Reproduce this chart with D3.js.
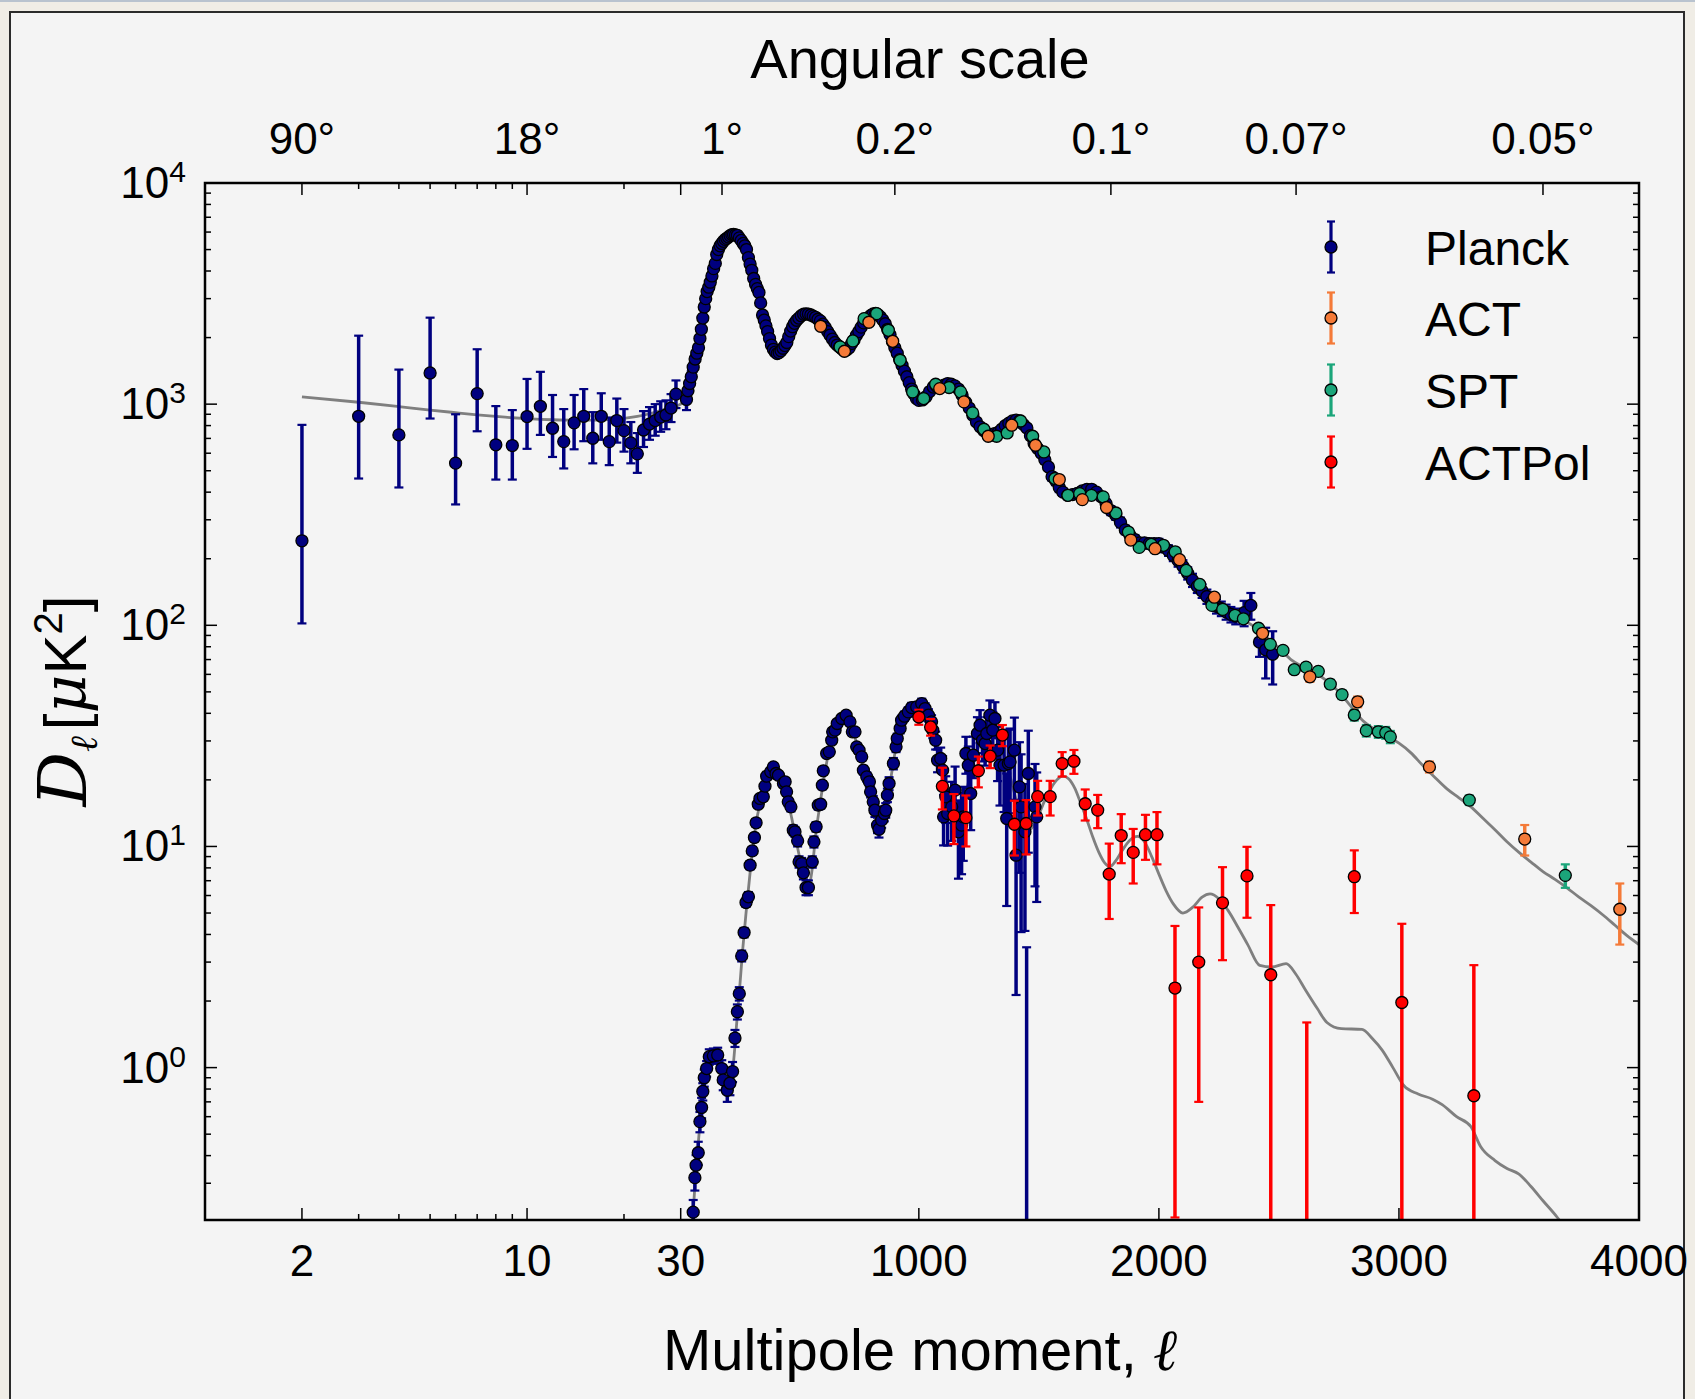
<!DOCTYPE html>
<html>
<head>
<meta charset="utf-8">
<script src="https://cdn.jsdelivr.net/npm/d3@7"></script>
<style>
  html, body { margin: 0; padding: 0; background: #f0ede6; }
  svg { display: block; }
  text { font-family: "Liberation Sans", Arial, sans-serif; fill: #000; }
</style>
</head>
<body>
<svg id="chart" width="1695" height="1399"></svg>
<script>
// ---------- CMB angular power spectra: TT (upper) and EE (lower) ----------

// Planck TT, low multipoles: [ell, D_ell, lower bound, upper bound]  (uK^2)
const planckLowEll = [
  [2,241,102,806],[3,881,461,2040],[4,726,420,1433],[5,1384,861,2461],[6,541,352,900],
  [7,1116,754,1771],[8,655,456,980],[9,650,456,940],[10,879,628,1300],[11,978,726,1400],
  [12,778,577,1100],[13,677,512,950],[14,823,625,1100],[15,881,680,1170],[16,701,540,920],
  [17,881,690,1120],[18,677,530,870],[19,843,670,1060],[20,759,610,950],[21,668,540,830],
  [22,596,489,740],[23,764,640,930],[24,813,690,970],[25,843,720,1000],[26,874,750,1030],
  [27,893,770,1040],[28,960,830,1110],[29,1110,960,1280]
];

// Planck TT, binned high multipoles: [ell, D_ell, error]
const planckTT = [
  [32,1050,110],[38,1150,100],[45,1240,90],[52,1330,80],[60,1470,70],[68,1600,60],[75,1700,55],
  [82,1800,50],[88,1980,50],[94,2180,50],[100,2450,50],[106,2750,50],[112,3000,50],[118,3230,50],
  [125,3380,50],[131,3560,50],[138,3800,50],[145,4100,50],[152,4330,50],[158,4750,50],[165,5000,50],
  [172,5200,50],[179,5330,50],[186,5450,50],[193,5560,50],[200,5620,50],[207,5700,50],[214,5780,50],
  [221,5840,50],[228,5850,50],[236,5820,50],[244,5800,50],[252,5650,50],[260,5500,50],[268,5330,50],
  [275,5200,50],[282,5000,50],[290,4600,50],[297,4300,50],[304,4030,40],[312,3700,40],[320,3480,40],
  [327,3330,40],[334,3200,40],[341,2870,40],[349,2530,40],[356,2400,40],[363,2260,40],[370,2130,40],
  [378,1980,40],[386,1850,40],[394,1770,40],[402,1720,40],[410,1693,40],[418,1710,40],[426,1745,40],
  [434,1790,40],[442,1840,40],[450,1900,40],[458,2020,40],[466,2140,40],[474,2240,40],[482,2320,40],
  [491,2395,40],[500,2450,40],[510,2510,40],[520,2550,40],[530,2560,40],[540,2555,40],[550,2530,40],
  [560,2500,40],[570,2470,40],[580,2420,40],[590,2380,40],[600,2300,40],[610,2220,40],[620,2130,40],
  [630,2050,40],[640,1970,40],[650,1900,40],[660,1850,40],[670,1810,40],[680,1775,40],[690,1745,40],
  [700,1760,40],[710,1800,40],[720,1880,40],[730,1950,40],[740,2050,40],[750,2130,40],[760,2230,40],
  [770,2330,40],[780,2420,40],[790,2460,40],[800,2520,40],[810,2560,40],[820,2570,40],[830,2540,40],
  [840,2480,40],[850,2400,40],[860,2310,40],[870,2180,40],[880,2060,40],[890,1920,40],[900,1800,40],
  [910,1700,30],[920,1590,30],[930,1500,30],[940,1410,30],[950,1330,30],[960,1250,30],[970,1170,30],
  [980,1110,30],[990,1060,30],[1000,1040,30],[1015,1045,30],[1030,1080,30],[1045,1140,30],[1060,1195,30],
  [1075,1200,30],[1090,1200,30],[1105,1220,30],[1120,1239,30],[1135,1230,30],[1150,1210,30],[1165,1170,30],
  [1180,1100,30],[1195,1020,25],[1210,960,25],[1225,890,25],[1240,830,25],[1255,790,25],[1270,760,25],
  [1285,735,25],[1300,723,25],[1315,735,25],[1330,745,25],[1345,770,25],[1360,800,25],[1375,820,25],
  [1390,840,25],[1405,846,25],[1420,840,25],[1435,810,25],[1450,780,25],[1465,720,20],[1480,665,20],
  [1495,630,20],[1510,600,20],[1525,560,20],[1540,520,20],[1555,470,20],[1570,450,20],[1585,420,20],
  [1600,400,15],[1620,387,15],[1640,390,15],[1660,395,15],[1680,405,15],[1700,412,15],[1720,412,15],
  [1740,400,15],[1760,381,15],[1780,355,15],[1800,330,15],[1820,315,15],[1840,292,15],[1860,270,12],
  [1880,255,12],[1900,244,12],[1920,236,12],[1940,236,12],[1960,234,12],[1980,234,12],[2000,234,12],
  [2020,226,12],[2040,218,12],[2060,207,12],[2080,196,12],[2100,185,12],[2120,172,11],[2140,160,11],
  [2160,150,10],[2180,143,10],[2200,135,10],[2220,128,9],[2240,122,9],[2260,119,9],[2280,115,9],
  [2300,112,9],[2320,110,9],[2355,114,15],[2383,123,17],[2419,84,12],[2445,77.5,20],[2474,74,20]
];

// ACT TT: [ell, D_ell, error]
const actTT = [
  [591,2250,60],[690,1735,50],[792,2346,60],[891,1924,50],[1087,1176,30],[1188,1024,25],[1289,716,20],
  [1387,803,20],[1486,652,18],[1585,456,12],[1681,370,10],[1782,341,9],[1883,243,7],[1984,222,6],
  [2086,198,6],[2231,134,5],[2432,92,4],[2629,58.5,3],[2828,45.1,2.5],[3127,22.9,1.3],[3524,10.8,1.7],
  [3920,5.2,1.6]
];

// SPT TT: [ell, D_ell, error]
const sptTT = [
  [672,1815,35],[725,1931,35],[772,2437,40],[824,2567,40],[873,2158,35],[922,1579,30],[974,1136,25],
  [1020,1060,22],[1070,1230,22],[1126,1189,20],[1174,1136,20],[1224,913,16],[1271,770,14],[1324,716,12],
  [1368,741,12],[1424,839,12],[1474,716,11],[1521,608,10],[1567,461,8],[1621,387,7],[1670,394,7],
  [1719,387,7],[1768,381,6],[1821,322,6],[1873,264,5],[1918,225,5],[1968,232,5],[2019,230,5],
  [2068,215,4],[2114,177,4],[2170,153,4],[2221,123,3.5],[2266,118,3.5],[2317,111,3],[2352,107,3],
  [2415,97,3],[2464,82,3],[2517,77,2.5],[2564,63,2.5],[2613,64.7,2.5],[2664,61.9,2.5],[2714,54.2,2.5],
  [2763,48.6,2.2],[2814,39.3,2.2],[2864,33.4,2],[2914,33,2],[2945,32.7,2],[2964,31.3,2],
  [3293,16.2,0.8],[3693,7.4,0.9]
];

// Planck EE: [ell, D_ell, error]
const planckEE = [
  [60,0.222,0.03],[67,0.318,0.04],[72,0.362,0.04],[81,0.412,0.05],[88,0.57,0.06],[95,0.66,0.07],
  [100,0.78,0.07],[106,0.90,0.08],[116,0.99,0.08],[127,1.12,0.09],[144,1.13,0.09],[162,1.14,0.09],
  [179,0.99,0.09],[185,0.88,0.09],[202,0.79,0.09],[213,0.85,0.1],[224,0.96,0.1],[234,1.36,0.12],
  [244,1.79,0.14],[252,2.16,0.15],[262,3.2,0.18],[272,4.08,0.2],[280,5.58,0.25],[290,5.92,0.3],
  [297,8.23,0.35],[306,9.55,0.4],[315,10.98,0.45],[322,12.79,0.5],[331,15.53,0.55],[338,16.48,0.6],
  [352,16.77,0.6],[359,18.74,0.6],[366,20.79,0.7],[383,21.75,0.7],[394,22.91,0.7],[405,21.37,0.7],
  [415,21.0,0.7],[436,19.26,0.7],[443,19.6,0.7],[449,17.66,0.7],[456,15.91,0.7],[467,15.1,0.7],
  [477,11.85,0.6],[484,11.65,0.6],[495,10.6,0.6],[501,8.52,0.5],[512,8.37,0.5],[519,7.6,0.5],
  [530,6.52,0.5],[540,6.52,0.5],[556,8.52,0.5],[563,10.49,0.6],[572,12.27,0.6],[581,15.37,0.7],
  [591,15.53,0.7],[598,18.93,0.8],[602,21.98,0.8],[616,26.32,0.9],[627,26.78,0.9],[637,30.24,1],
  [641,32.98,1],[651,33.56,1],[660,35.97,1],[679,37.89,1.1],[697,39.23,1.1],[713,36.6,1.1],
  [723,32.98,1.1],[734,32.98,1.1],[741,28.21,1],[751,27.25,1],[762,25.42,1],[769,22.13,1],
  [783,20.64,1],[794,19.6,1],[799,17.66,1],[810,15.91,1],[817,14.59,1],[828,12.49,1],[834,11.97,1],
  [845,13.15,1],[856,14.09,1.1],[862,14.59,1.1],[869,17.06,1.2],[876,19.26,1.3],[894,23.71,1.4],
  [905,28.21,1.5],[910,30.77,1.6],[922,34.15,1.7],[928,37.24,1.8],[940,38.82,1.9],[956,40.61,2],
  [970,42.48,2.1],[991,42.77,2.2],[1012,44.28,2.3],[1026,42.04,2.4],[1040,39.23,2.5],[1053,36.6,2.6],
  [1058,33.56,2.7],[1070,30.24,2.8],[1078,24.55,2.9],[1091,24.99,3],[1099,22.13,3.5],[1103,13.61,3.5],
  [1112,16.77,4],[1120,14.09,4],[1137,15.1,4.5],[1151,17.97,5],[1165,11.65,4.5],[1178,12.49,5],
  [1185,13.61,5],[1196,26.32,5],[1206,23.31,5],[1216,17.35,5.5],[1227,25.86,5.5],[1244,32.41,6],
  [1255,35.34,6],[1265,30.24,6],[1276,29.2,6],[1283,32.41,6],[1296,39.23,6.5],[1308,33.56,7],
  [1317,37.89,7],[1328,27.25,7.5],[1338,23.31,8],[1355,23.31,9],[1366,13.38,8],[1373,23.71,10],
  [1380,24.13,10],[1398,27.25,11],[1405,9.13,7],[1419,18.6,11],[1426,15.1,11],[1442,11.65,7.5],
  [1449,-1.0,4.5],[1456,21.37,12],[1484,15.1,8.5],[1491,13.61,8]
];

// ACTPol EE: [ell, D_ell, error]
const actpolEE = [
  [1000,38.5,3],[1049,34.7,3],[1098,18.7,4],[1146,13.75,3.5],[1196,13.5,3.5],[1248,22.0,3.5],
  [1297,25.6,3],[1348,31.9,3.5],[1398,12.6,3.5],[1447,12.7,3.5],[1495,16.8,3],[1547,16.8,3],
  [1597,23.7,3],[1646,24.3,3],[1693,15.6,2.5],[1745,14.6,2.5],[1793,7.5,2.8],[1843,11.2,2.8],
  [1893,9.4,2.6],[1944,11.3,2.6],[1992,11.3,3],[2067,2.29,2.08],[2166,3.0,2.3],[2265,5.56,2.5],
  [2367,7.36,2.6],[2466,2.63,2.8],[2616,-0.5,2.1],[2814,7.3,2.3],[3012,1.97,2.5],[3312,0.746,2.16]
];

// Best-fit model curves: [ell, D_ell]
const ttModel = [
  [2,1078],[3,1020],[4,975],[5,940],[6,915],[7,895],[8,880],[9,868],[10,860],[12,850],[14,846],
  [16,846],[18,852],[20,862],[22,880],[24,905],[26,935],[28,965],[30,1000],[40,1150],[60,1460],
  [80,1790],[100,2400],[120,3250],[140,3900],[160,4700],[180,5330],[200,5620],[220,5830],[240,5810],
  [260,5520],[280,5050],[300,4200],[320,3500],[340,2900],[360,2300],[380,1960],[400,1730],[420,1705],
  [440,1820],[460,2050],[480,2300],[500,2450],[520,2550],[540,2560],[560,2500],[580,2420],[600,2300],
  [620,2130],[640,1970],[660,1850],[680,1775],[700,1760],[720,1880],[740,2050],[760,2230],[780,2420],
  [800,2520],[820,2570],[840,2480],[860,2310],[880,2060],[900,1800],[920,1590],[940,1410],[960,1250],
  [980,1110],[1000,1045],[1020,1050],[1040,1110],[1060,1190],[1080,1210],[1100,1225],[1120,1240],
  [1140,1225],[1160,1185],[1180,1100],[1200,1000],[1220,905],[1240,830],[1260,780],[1280,740],
  [1300,725],[1320,735],[1340,765],[1360,800],[1380,830],[1400,845],[1420,840],[1440,805],[1460,735],
  [1480,665],[1500,610],[1520,565],[1540,520],[1560,465],[1580,425],[1600,400],[1620,388],[1640,390],
  [1660,396],[1680,405],[1700,412],[1720,410],[1740,400],[1760,381],[1780,355],[1800,330],[1820,312],
  [1840,290],[1860,270],[1880,254],[1900,243],[1920,236],[1940,234],[1960,233],[1980,232],[2000,231],
  [2020,226],[2040,218],[2060,207],[2080,196],[2100,184],[2120,172],[2140,160],[2160,150],[2180,142],
  [2200,135],[2250,121],[2300,113],[2350,106],[2400,98],[2450,88],[2500,79],[2550,70],[2600,65],
  [2650,61],[2700,56],[2750,50],[2800,43],[2850,37],[2900,33.8],[2950,31.5],[3000,29.3],[3050,26.5],
  [3100,23.2],[3150,20.5],[3200,18.2],[3250,16.6],[3300,15.1],[3350,13.4],[3400,11.9],[3450,10.5],
  [3500,9.4],[3550,8.5],[3600,7.7],[3650,7.1],[3700,6.5],[3750,5.9],[3800,5.4],[3850,4.9],[3900,4.4],
  [3950,3.95],[4000,3.6]
];
const eeModel = [
  [45,0.12],[55,0.18],[60,0.22],[70,0.33],[80,0.44],[90,0.59],[100,0.76],[110,0.92],[125,1.07],
  [145,1.13],[165,1.1],[180,0.97],[195,0.84],[205,0.8],[215,0.84],[225,0.98],[235,1.3],[245,1.8],
  [255,2.4],[265,3.3],[280,5.0],[300,8.2],[320,12.3],[340,16.0],[360,19.2],[380,21.4],[395,22.1],
  [410,21.5],[430,19.4],[450,16.8],[470,13.5],[490,10.5],[510,8.2],[525,6.9],[540,6.6],[555,7.8],
  [570,11.2],[590,16.0],[610,22.0],[630,28.5],[650,33.5],[670,37.0],[690,38.9],[705,38.3],[720,35.0],
  [740,29.5],[760,24.5],[780,20.3],[800,17.0],[820,13.8],[835,12.3],[850,12.9],[865,15.0],[880,19.2],
  [900,26.3],[920,33.2],[940,38.2],[960,41.3],[980,42.6],[1000,42.5],[1020,40.8],[1040,37.6],
  [1060,33.2],[1080,27.8],[1100,22.6],[1120,18.4],[1140,15.6],[1160,14.6],[1180,15.5],[1200,18.3],
  [1220,22.2],[1240,26.5],[1260,30.0],[1280,32.0],[1300,32.4],[1320,31.2],[1340,28.5],[1360,24.8],
  [1380,20.8],[1400,17.1],[1420,14.2],[1440,12.4],[1460,11.9],[1480,12.5],[1500,13.9],[1525,16.2],
  [1550,18.3],[1575,20.0],[1600,20.8],[1625,20.2],[1650,18.3],[1675,15.6],[1700,13.2],[1725,11.0],
  [1750,9.4],[1775,8.4],[1795,8.1],[1820,8.6],[1850,9.7],[1880,10.7],[1910,11.1],[1940,10.5],
  [1970,9.0],[2000,7.5],[2030,6.3],[2060,5.5],[2100,5.0],[2140,5.3],[2180,5.9],[2213,6.1],[2250,5.8],
  [2290,5.1],[2330,4.3],[2370,3.6],[2420,2.9],[2470,2.85],[2530,2.95],[2570,2.65],[2610,2.25],
  [2660,1.85],[2700,1.6],[2760,1.5],[2846,1.49],[2890,1.35],[2930,1.2],[2975,1.0],[3020,0.83],
  [3080,0.76],[3140,0.72],[3180,0.68],[3240,0.6],[3300,0.54],[3340,0.44],[3400,0.38],[3450,0.35],
  [3500,0.33],[3550,0.29],[3600,0.25],[3660,0.21],[3720,0.17]
];

// Axis ticks and labels
const xTickValues = [2, 10, 30, 1000, 2000, 3000, 4000];
const xTickLabels = ["2", "10", "30", "1000", "2000", "3000", "4000"];
const xMinorValues = [3, 4, 5, 6, 7, 8, 9, 20];
const angleDegrees = [90, 18, 1, 0.2, 0.1, 0.07, 0.05];
const angleLabels = ["90°", "18°", "1°", "0.2°", "0.1°", "0.07°", "0.05°"];
const yTickExponents = [0, 1, 2, 3, 4];

const legendNames = ["Planck", "ACT", "SPT", "ACTPol"];
const colors = { planck: "#00007f", act: "#f47a38", spt: "#1ba57a", actpol: "#ff0000", model: "#7f7f7f" };

// ---------- layout ----------
const W = 1695, H = 1399;
const P = { left: 205, right: 1639, top: 183, bottom: 1220 };

// hybrid multipole axis: logarithmic up to ell = 30, linear above
const xLog = d3.scaleLog().domain([1, 30]).range([P.left, 680.7]);
const xLin = d3.scaleLinear().domain([30, 4000]).range([686, P.right]);
const x = l => (l <= 30 ? xLog(l) : xLin(l));
const y = d3.scaleLog().domain([0.2046, 1e4]).range([P.bottom, P.top]);
const yc = v => (v > 0 ? y(v) : P.bottom + 60);

const svg = d3.select("#chart");

// figure surround and panel
svg.append("rect").attr("width", W).attr("height", H).attr("fill", "#f0ede6");
svg.append("rect").attr("width", W).attr("height", 2).attr("fill", "#b9c3cf");
svg.append("rect").attr("x", 10).attr("y", 12).attr("width", 1674).attr("height", 1420)
  .attr("fill", "#f4f4f4").attr("stroke", "#2b2b2b").attr("stroke-width", 2);

svg.append("defs").append("clipPath").attr("id", "plotClip")
  .append("rect").attr("x", P.left).attr("y", P.top)
  .attr("width", P.right - P.left).attr("height", P.bottom - P.top);

const plotG = svg.append("g").attr("clip-path", "url(#plotClip)");

// model curves
const modelLine = d3.line().x(d => x(d[0])).y(d => y(d[1])).curve(d3.curveMonotoneX);
[ttModel, eeModel].forEach(m => {
  plotG.append("path").datum(m).attr("d", modelLine)
    .attr("fill", "none").attr("stroke", colors.model).attr("stroke-width", 2.8);
});

// data series with error bars
function drawSeries(rows, color, lo, hi, r = 6) {
  const g = plotG.append("g");
  const capW = 4.5;
  g.selectAll("line.bar").data(rows).join("line")
    .attr("x1", d => x(d[0])).attr("x2", d => x(d[0]))
    .attr("y1", d => yc(lo(d))).attr("y2", d => yc(hi(d)))
    .attr("stroke", color).attr("stroke-width", 3.5);
  const caps = [];
  rows.forEach(d => { caps.push([d[0], hi(d)]); if (lo(d) > 0) caps.push([d[0], lo(d)]); });
  g.selectAll("line.cap").data(caps).join("line")
    .attr("x1", d => x(d[0]) - capW).attr("x2", d => x(d[0]) + capW)
    .attr("y1", d => y(d[1])).attr("y2", d => y(d[1]))
    .attr("stroke", color).attr("stroke-width", 2.2);
  g.selectAll("circle").data(rows.filter(d => d[1] > 0)).join("circle")
    .attr("cx", d => x(d[0])).attr("cy", d => y(d[1])).attr("r", r)
    .attr("fill", color).attr("stroke", "#000").attr("stroke-width", 1.3);
}
const symLo = d => d[1] - d[2];
const symHi = d => d[1] + d[2];

drawSeries(planckLowEll, colors.planck, d => d[2], d => d[3]);
drawSeries(planckTT, colors.planck, symLo, symHi);
drawSeries(sptTT, colors.spt, symLo, symHi);
drawSeries(actTT, colors.act, symLo, symHi);
drawSeries(planckEE, colors.planck, symLo, symHi);
drawSeries(actpolEE, colors.actpol, symLo, symHi);

// ---------- axes ----------
const axG = svg.append("g").attr("stroke", "#000");
const tick = (x1, y1, x2, y2, w = 1.5) =>
  axG.append("line").attr("x1", x1).attr("y1", y1).attr("x2", x2).attr("y2", y2).attr("stroke-width", w);
const MAJ = 12, MIN = 6;

// y ticks, both sides
y.ticks().forEach(v => {
  const isMajor = Math.abs(Math.log10(v) - Math.round(Math.log10(v))) < 1e-9;
  const len = isMajor ? MAJ : MIN;
  const yy = y(v);
  if (yy < P.top - 0.5 || yy > P.bottom + 0.5) return;
  tick(P.left, yy, P.left + len, yy);
  tick(P.right, yy, P.right - len, yy);
});

// bottom ticks
xTickValues.forEach(v => tick(x(v), P.bottom, x(v), P.bottom - MAJ));
xMinorValues.forEach(v => tick(x(v), P.bottom, x(v), P.bottom - MIN));

// top ticks: angular scale, ell = 180 deg / theta
const angleEll = angleDegrees.map(t => 180 / t);
angleEll.forEach(l => tick(x(l), P.top, x(l), P.top + MAJ));
tick(x(30), P.top, x(30), P.top + MAJ);
xMinorValues.forEach(v => tick(x(v), P.top, x(v), P.top + MIN));

// frame
svg.append("rect").attr("x", P.left).attr("y", P.top)
  .attr("width", P.right - P.left).attr("height", P.bottom - P.top)
  .attr("fill", "none").attr("stroke", "#000").attr("stroke-width", 2.5);

// tick labels
xTickValues.forEach((v, i) => {
  svg.append("text").attr("x", x(v)).attr("y", 1276).attr("text-anchor", "middle")
    .attr("font-size", 44).text(xTickLabels[i]);
});
angleEll.forEach((l, i) => {
  svg.append("text").attr("x", x(l)).attr("y", 154).attr("text-anchor", "middle")
    .attr("font-size", 44).text(angleLabels[i]);
});
yTickExponents.forEach(e => {
  const t = svg.append("text").attr("x", 186).attr("y", y(Math.pow(10, e)) + 15)
    .attr("text-anchor", "end").attr("font-size", 44);
  t.append("tspan").text("10");
  t.append("tspan").attr("font-size", 30).attr("dy", -16).text(String(e));
});

// axis titles
svg.append("text").attr("x", 920).attr("y", 78).attr("text-anchor", "middle")
  .attr("font-size", 56).text("Angular scale");
const xt = svg.append("text").attr("x", 920).attr("y", 1370).attr("text-anchor", "middle")
  .attr("font-size", 58);
xt.append("tspan").text("Multipole moment, ");
xt.append("tspan").attr("font-family", "DejaVu Serif").attr("font-style", "italic").text("ℓ");

const yt = svg.append("text").attr("transform", "translate(86,701) rotate(-90)")
  .attr("text-anchor", "middle").attr("font-size", 60);
yt.append("tspan").attr("font-family", "DejaVu Serif").attr("font-style", "italic").attr("font-size", 68).text("D");
yt.append("tspan").attr("font-family", "DejaVu Serif").attr("font-style", "italic").attr("font-size", 38).attr("dy", 11).text("ℓ");
yt.append("tspan").attr("dy", -11).attr("dx", 6).text("[");
yt.append("tspan").attr("font-family", "DejaVu Serif").attr("font-style", "italic").text("μ");
yt.append("tspan").text("K");
yt.append("tspan").attr("font-size", 40).attr("dy", -24).text("2");
yt.append("tspan").attr("dy", 24).text("]");

// ---------- legend ----------
const legendColors = [colors.planck, colors.act, colors.spt, colors.actpol];
const legendY = [247, 318, 390, 462];
const lg = svg.append("g");
legendNames.forEach((name, i) => {
  const cx = 1331, cy = legendY[i];
  const c = legendColors[i];
  lg.append("line").attr("x1", cx).attr("x2", cx).attr("y1", cy - 25.5).attr("y2", cy + 25.5)
    .attr("stroke", c).attr("stroke-width", 3.2);
  [cy - 25.5, cy + 25.5].forEach(yy => lg.append("line").attr("x1", cx - 4).attr("x2", cx + 4)
    .attr("y1", yy).attr("y2", yy).attr("stroke", c).attr("stroke-width", 2.2));
  lg.append("circle").attr("cx", cx).attr("cy", cy).attr("r", 6)
    .attr("fill", c).attr("stroke", "#000").attr("stroke-width", 1.3);
  lg.append("text").attr("x", 1425).attr("y", cy + 17.5).attr("font-size", 48).text(name);
});
</script>
</body>
</html>
